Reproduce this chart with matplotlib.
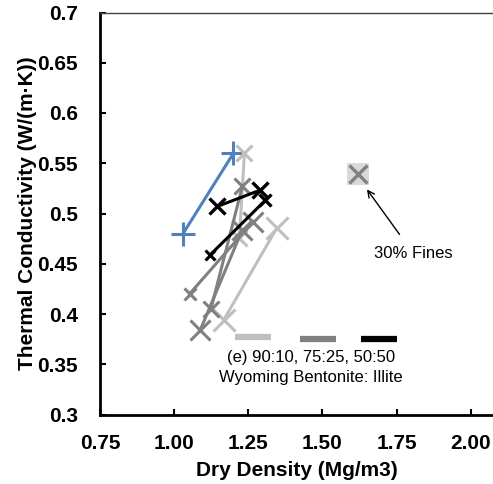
import numpy as np
import matplotlib
matplotlib.use("Agg")
import matplotlib.pyplot as plt

plt.rcParams['font.family'] = ['Liberation Sans', 'DejaVu Sans']

# blue reference series
blue_x = [1.03, 1.20]
blue_y = [0.48, 0.56]

# 90:10 (light gray)
lg1_x = [1.167, 1.347]
lg1_y = [0.394, 0.486]
lg2_x = [1.237, 1.22]
lg2_y = [0.560, 0.476]

# 75:25 (gray)
g1_x = [1.052, 1.266]
g1_y = [0.420, 0.492]
g2_x = [1.124, 1.230]
g2_y = [0.405, 0.527]
g3_x = [1.088, 1.230]
g3_y = [0.384, 0.484]

# 50:50 (black)
b1_x = [1.145, 1.288]
b1_y = [0.507, 0.523]
b2_x = [1.122, 1.307]
b2_y = [0.459, 0.513]

# 30% fines point
fines_x = [1.62]
fines_y = [0.539]

xticks = [0.75, 1.00, 1.25, 1.50, 1.75, 2.00]
yticks = [0.3, 0.35, 0.4, 0.45, 0.5, 0.55, 0.6, 0.65, 0.7]

LG = '#bfbfbf'
G = '#808080'
K = '#000000'
BLUE = '#4f81bd'

fig = plt.figure(figsize=(4.93, 4.84), dpi=100)
ax = fig.add_axes([100/493, 1 - 414.5/484, 1 - 100/493, (414.5 - 12.5)/484])

lw = 2.2
ax.plot(blue_x, blue_y, '-', color=BLUE, lw=lw, marker='+', ms=17, mew=2.2)

ax.plot(lg1_x, lg1_y, '-', color=LG, lw=lw, marker='x', ms=16, mew=2.2)
ax.plot(lg2_x, lg2_y, '-', color=LG, lw=lw, marker='x', ms=11, mew=2.2)

ax.plot(g1_x, g1_y, '-', color=G, lw=lw)
ax.plot(g1_x[:1], g1_y[:1], 'x', color=G, ms=8, mew=2.2)
ax.plot(g1_x[1:], g1_y[1:], 'x', color=G, ms=14, mew=2.2)
ax.plot(g2_x, g2_y, '-', color=G, lw=lw, marker='x', ms=12, mew=2.2)
ax.plot(g3_x, g3_y, '-', color=G, lw=lw, marker='x', ms=15, mew=2.2)

ax.plot(b1_x, b1_y, '-', color=K, lw=lw, marker='x', ms=12, mew=2.4)
ax.plot(b2_x, b2_y, '-', color=K, lw=lw)
ax.plot(b2_x[:1], b2_y[:1], 'x', color=K, ms=7, mew=2.2)
ax.plot(b2_x[1:], b2_y[1:], 'x', color=K, ms=9, mew=2.4)

ax.plot(fines_x, fines_y, 's', color='#d9d9d9', ms=16, mew=0)
ax.plot(fines_x, fines_y, 'x', color=G, ms=13, mew=2.4)

ax.annotate('30% Fines', xy=(fines_x[0] + 0.03, fines_y[0] - 0.015),
            xytext=(1.807, 0.46), fontsize=12, ha='center', va='center',
            arrowprops=dict(arrowstyle='->', color='black', lw=1,
                            shrinkA=8, shrinkB=0))

# legend-like line swatches
ax.plot([1.206, 1.326], [0.3774, 0.3774], '-', color=LG, lw=4.5, solid_capstyle='butt')
ax.plot([1.425, 1.545], [0.3748, 0.3748], '-', color=G, lw=4.5, solid_capstyle='butt')
ax.plot([1.630, 1.751], [0.3748, 0.3748], '-', color=K, lw=4.5, solid_capstyle='butt')
ax.text(1.462, 0.357, '(e) 90:10, 75:25, 50:50', fontsize=12, ha='center', va='center')
ax.text(1.462, 0.337, 'Wyoming Bentonite: Illite', fontsize=12, ha='center', va='center')

ax.set_xlim(0.75, 2.075)
ax.set_ylim(0.3, 0.7)
ax.set_xticks(xticks)
ax.set_xticklabels(['%.2f' % v for v in xticks], fontweight='bold', fontsize=15)
ax.set_yticks(yticks)
ax.set_yticklabels(['%g' % v for v in yticks], fontweight='bold', fontsize=15)
ax.tick_params(axis='both', direction='in', length=4, width=1.5)
ax.tick_params(axis='y', pad=16)
ax.tick_params(axis='x', pad=14)

ax.spines['left'].set_linewidth(2)
ax.spines['bottom'].set_linewidth(2)
ax.spines['right'].set_visible(False)
ax.spines['top'].set_linewidth(1.0)
ax.spines['top'].set_color('#404040')

ax.set_xlabel('Dry Density (Mg/m3)', fontweight='bold', fontsize=15, labelpad=6)
ax.set_ylabel('Thermal Conductivity (W/(m\u00b7K))', fontweight='bold', fontsize=15, labelpad=0)

fig.savefig('out.png', dpi=100)
